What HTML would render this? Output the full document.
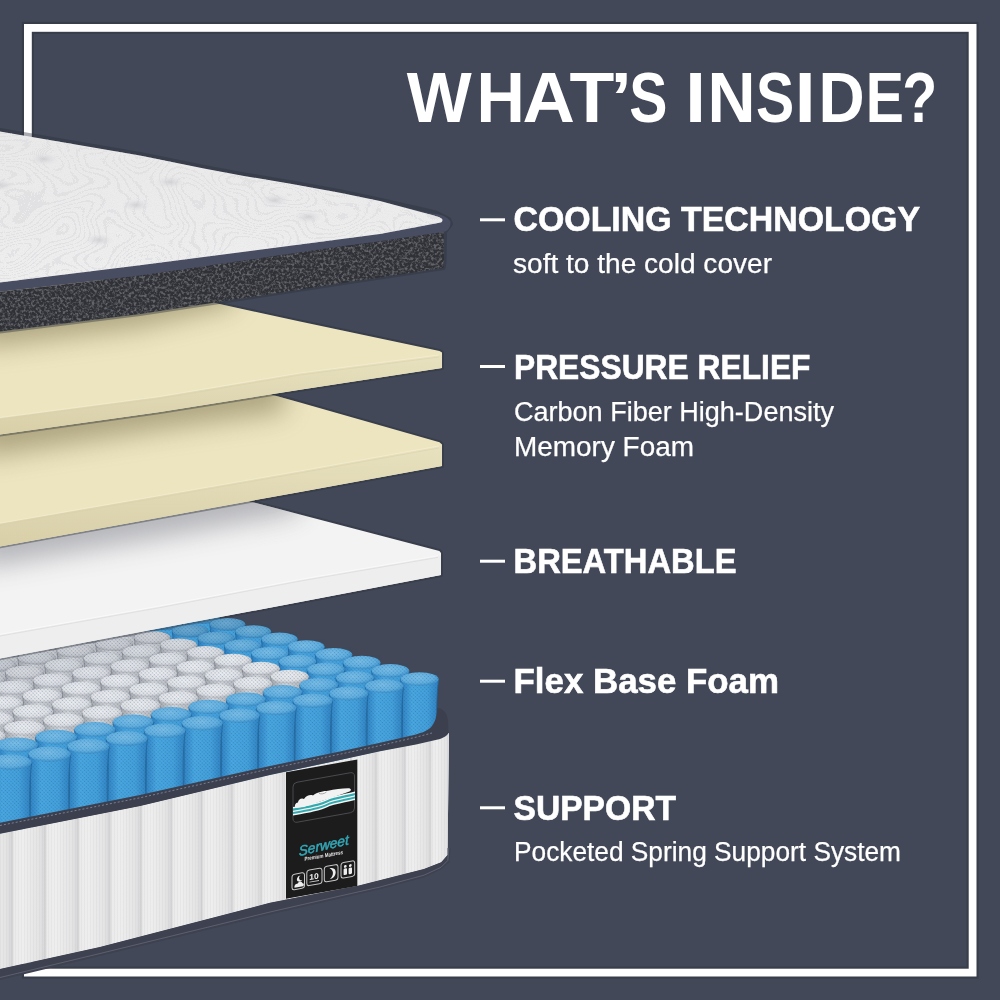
<!DOCTYPE html>
<html><head><meta charset="utf-8"><style>
html,body{margin:0;padding:0;}
body{width:1000px;height:1000px;overflow:hidden;background:#424857;}
svg{position:absolute;left:0;top:0;display:block;will-change:transform;}
</style></head><body>
<svg width="1000" height="1000" viewBox="0 0 1000 1000">
<defs>
<filter id="fTopo" x="0" y="0" width="100%" height="100%" filterUnits="objectBoundingBox">
 <feTurbulence type="fractalNoise" baseFrequency="0.011 0.018" numOctaves="2" seed="11"/>
 <feColorMatrix type="matrix" values="0 0 0 0 0.70  0 0 0 0 0.70  0 0 0 0 0.72  1.6 0 0 0 -0.3"/>
 <feComponentTransfer><feFuncA type="discrete" tableValues="0 0 0 1 0 0 0 1 0 0 0 1 0 0 0 1 0 0 0 1 0 0 0 1 0 0 0 1 0 0 0 1 0 0 0 1 0 0 0 1 0 0 0 1 0 0 0 1 0 0 0 1 0 0 0 1"/></feComponentTransfer>
</filter>
<filter id="fKnit" x="0" y="0" width="100%" height="100%" filterUnits="objectBoundingBox">
 <feTurbulence type="fractalNoise" baseFrequency="0.9" numOctaves="1" seed="5"/>
 <feColorMatrix type="matrix" values="0 0 0 0 0.72  0 0 0 0 0.72  0 0 0 0 0.74  3 0 0 0 -1.4"/>
</filter>
<filter id="fSpeck" x="0" y="0" width="100%" height="100%" filterUnits="objectBoundingBox">
 <feTurbulence type="fractalNoise" baseFrequency="0.38" numOctaves="3" seed="7" result="n"/>
 <feColorMatrix in="n" type="matrix" values="0 0 0 0 0.42  0 0 0 0 0.42  0 0 0 0 0.45  3.2 0 0 0 -1.35"/>
</filter>
<filter id="blurS" x="-30%" y="-100%" width="160%" height="300%"><feGaussianBlur stdDeviation="13"/></filter>
<pattern id="patMesh" width="2.6" height="2.6" patternUnits="userSpaceOnUse" patternTransform="rotate(45)"><circle cx="1.3" cy="1.3" r="0.75" fill="#1c4f7a"/></pattern>
<pattern id="patLines" width="3" height="6" patternUnits="userSpaceOnUse"><rect x="0" y="0" width="1" height="6" fill="#b0b0b4"/></pattern>
<pattern id="patSpeck" width="6" height="6" patternUnits="userSpaceOnUse">
 <circle cx="1" cy="1" r="0.7" fill="#8a8b90"/><circle cx="4" cy="3" r="0.6" fill="#77787d"/><circle cx="2" cy="5" r="0.5" fill="#9a9ba0"/>
</pattern>
<linearGradient id="gBlueBody" x1="0" y1="0" x2="1" y2="0">
 <stop offset="0" stop-color="#2d7fc0"/><stop offset="0.3" stop-color="#4aa8e2"/><stop offset="0.7" stop-color="#45a2dd"/><stop offset="1" stop-color="#2f82c2"/>
</linearGradient>
<radialGradient id="gBlueTop" cx="0.45" cy="0.4" r="0.6">
 <stop offset="0" stop-color="#7cc0ea"/><stop offset="0.7" stop-color="#62b1e2"/><stop offset="1" stop-color="#3f92cc"/>
</radialGradient>
<linearGradient id="gWhiteBody" x1="0" y1="0" x2="1" y2="0">
 <stop offset="0" stop-color="#a9aaae"/><stop offset="0.4" stop-color="#d8d8da"/><stop offset="1" stop-color="#a9aaae"/>
</linearGradient>
<radialGradient id="gWhiteTop" cx="0.45" cy="0.4" r="0.6">
 <stop offset="0" stop-color="#f0f0f2"/><stop offset="0.7" stop-color="#e4e4e6"/><stop offset="1" stop-color="#bdbdc2"/>
</radialGradient>
<linearGradient id="gChannel" x1="0" y1="0" x2="1" y2="0">
 <stop offset="0" stop-color="#cdcdcf"/><stop offset="0.1" stop-color="#ebebeb"/><stop offset="0.35" stop-color="#eeeeee"/><stop offset="0.85" stop-color="#e4e4e5"/><stop offset="1" stop-color="#d9d9db"/>
</linearGradient>
<linearGradient id="gSpringShadow" gradientUnits="userSpaceOnUse" x1="0" y1="640" x2="0" y2="700">
 <stop offset="0" stop-color="#20242e" stop-opacity="0.45"/><stop offset="1" stop-color="#20242e" stop-opacity="0"/>
</linearGradient>
<linearGradient id="gWLshadow" gradientUnits="userSpaceOnUse" x1="100" y1="528" x2="108" y2="585">
 <stop offset="0" stop-color="#7c7e86" stop-opacity="0.6"/><stop offset="1" stop-color="#7c7e86" stop-opacity="0"/>
</linearGradient>
<linearGradient id="gLYshadow" gradientUnits="userSpaceOnUse" x1="100" y1="420" x2="107" y2="470">
 <stop offset="0" stop-color="#8c825c" stop-opacity="0.5"/><stop offset="1" stop-color="#8c825c" stop-opacity="0"/>
</linearGradient>
<linearGradient id="gUYshadow" gradientUnits="userSpaceOnUse" x1="100" y1="319" x2="105" y2="360">
 <stop offset="0" stop-color="#8c825c" stop-opacity="0.5"/><stop offset="1" stop-color="#8c825c" stop-opacity="0"/>
</linearGradient>
<linearGradient id="gYelFront" x1="0" y1="0" x2="0" y2="1">
 <stop offset="0" stop-color="#e8e1bf"/><stop offset="1" stop-color="#d8cfa8"/>
</linearGradient>
<linearGradient id="gCover" gradientUnits="userSpaceOnUse" x1="0" y1="130" x2="0" y2="283">
 <stop offset="0" stop-color="#e9e9ea"/><stop offset="1" stop-color="#efeff0"/>
</linearGradient>
<radialGradient id="gTuft"><stop offset="0" stop-color="#cbcbcf"/><stop offset="1" stop-color="#e0e0e2" stop-opacity="0"/></radialGradient>
<clipPath id="clipSprings"><polygon points="-10,500 460,500 449,733 440,737 416,744.5 0,833.7 -10,835.7"/></clipPath>
<clipPath id="clipMesh"><rect x="69.4" y="577.5" width="33.1" height="95"/><rect x="30.2" y="583.5" width="33.4" height="95"/><rect x="-9.4" y="589.5" width="33.8" height="95"/><rect x="-49.5" y="595.7" width="34.2" height="95"/><rect x="91.4" y="583.7" width="33.4" height="95"/><rect x="52.4" y="589.8" width="33.8" height="95"/><rect x="13.0" y="595.9" width="34.2" height="95"/><rect x="-26.8" y="602.1" width="34.6" height="95"/><rect x="113.9" y="590.1" width="33.8" height="95"/><rect x="75.2" y="596.2" width="34.2" height="95"/><rect x="36.1" y="602.5" width="34.6" height="95"/><rect x="-3.5" y="608.7" width="35.0" height="95"/><rect x="-43.4" y="615.1" width="35.4" height="95"/><rect x="137.0" y="596.6" width="34.2" height="95"/><rect x="98.6" y="602.9" width="34.6" height="95"/><rect x="59.7" y="609.2" width="35.0" height="95"/><rect x="20.5" y="615.5" width="35.4" height="95"/><rect x="-19.2" y="622.0" width="35.8" height="95"/><rect x="160.7" y="603.4" width="34.6" height="95"/><rect x="122.5" y="609.7" width="35.0" height="95"/><rect x="84.0" y="616.0" width="35.4" height="95"/><rect x="45.0" y="622.5" width="35.8" height="95"/><rect x="5.6" y="629.0" width="36.2" height="95"/><rect x="-34.2" y="635.6" width="36.6" height="95"/><rect x="185.0" y="610.3" width="35.0" height="95"/><rect x="147.1" y="616.6" width="35.4" height="95"/><rect x="108.8" y="623.1" width="35.8" height="95"/><rect x="70.1" y="629.6" width="36.2" height="95"/><rect x="31.0" y="636.2" width="36.6" height="95"/><rect x="-8.5" y="642.9" width="37.0" height="95"/><rect x="-48.4" y="649.7" width="37.4" height="95"/><rect x="209.9" y="617.3" width="35.3" height="95"/><rect x="172.3" y="623.8" width="35.7" height="95"/><rect x="134.3" y="630.3" width="36.2" height="95"/><rect x="95.8" y="636.9" width="36.6" height="95"/><rect x="57.0" y="643.6" width="37.0" height="95"/><rect x="17.8" y="650.4" width="37.4" height="95"/><rect x="-21.8" y="657.2" width="37.8" height="95"/><rect x="235.4" y="624.6" width="35.7" height="95"/><rect x="198.0" y="631.1" width="36.1" height="95"/><rect x="160.3" y="637.7" width="36.5" height="95"/><rect x="122.2" y="644.4" width="37.0" height="95"/><rect x="83.7" y="651.2" width="37.4" height="95"/><rect x="44.8" y="658.0" width="37.8" height="95"/><rect x="5.4" y="665.0" width="38.2" height="95"/><rect x="-34.3" y="672.0" width="38.6" height="95"/><rect x="261.4" y="632.0" width="36.1" height="95"/><rect x="224.4" y="638.6" width="36.5" height="95"/><rect x="187.0" y="645.3" width="36.9" height="95"/><rect x="149.2" y="652.1" width="37.3" height="95"/><rect x="110.9" y="658.9" width="37.8" height="95"/><rect x="72.3" y="665.9" width="38.2" height="95"/><rect x="33.3" y="672.9" width="38.6" height="95"/><rect x="-6.1" y="680.0" width="39.0" height="95"/><rect x="-45.9" y="687.1" width="39.4" height="95"/><rect x="288.1" y="639.5" width="36.5" height="95"/><rect x="251.4" y="646.3" width="36.9" height="95"/><rect x="214.3" y="653.0" width="37.3" height="95"/><rect x="176.7" y="659.9" width="37.7" height="95"/><rect x="138.8" y="666.9" width="38.2" height="95"/><rect x="100.5" y="673.9" width="38.6" height="95"/><rect x="61.8" y="681.0" width="39.0" height="95"/><rect x="22.7" y="688.2" width="39.4" height="95"/><rect x="-16.8" y="695.4" width="39.8" height="95"/><rect x="-56.7" y="702.7" width="40.3" height="95"/><rect x="315.3" y="647.3" width="36.9" height="95"/><rect x="278.9" y="654.1" width="37.3" height="95"/><rect x="242.1" y="661.0" width="37.7" height="95"/><rect x="204.9" y="667.9" width="38.1" height="95"/><rect x="167.3" y="674.9" width="38.6" height="95"/><rect x="129.3" y="682.1" width="39.0" height="95"/><rect x="90.9" y="689.2" width="39.4" height="95"/><rect x="52.1" y="696.5" width="39.8" height="95"/><rect x="12.9" y="703.9" width="40.3" height="95"/><rect x="-26.7" y="711.3" width="40.7" height="95"/><rect x="343.2" y="655.2" width="37.2" height="95"/><rect x="307.1" y="662.1" width="37.7" height="95"/><rect x="270.6" y="669.0" width="38.1" height="95"/><rect x="233.7" y="676.1" width="38.5" height="95"/><rect x="196.4" y="683.2" width="39.0" height="95"/><rect x="158.8" y="690.4" width="39.4" height="95"/><rect x="120.7" y="697.7" width="39.8" height="95"/><rect x="82.2" y="705.1" width="40.2" height="95"/><rect x="43.3" y="712.5" width="40.7" height="95"/><rect x="4.0" y="720.0" width="41.1" height="95"/><rect x="-35.6" y="727.6" width="41.5" height="95"/><rect x="371.6" y="663.3" width="37.6" height="95"/><rect x="335.8" y="670.2" width="38.1" height="95"/><rect x="299.7" y="677.3" width="38.5" height="95"/><rect x="263.1" y="684.4" width="38.9" height="95"/><rect x="226.2" y="691.7" width="39.4" height="95"/><rect x="188.8" y="699.0" width="39.8" height="95"/><rect x="151.1" y="706.3" width="40.2" height="95"/><rect x="112.9" y="713.8" width="40.6" height="95"/><rect x="74.4" y="721.3" width="41.1" height="95"/><rect x="35.4" y="728.9" width="41.5" height="95"/><rect x="-3.9" y="736.6" width="41.9" height="95"/><rect x="-43.7" y="744.4" width="42.4" height="95"/><rect x="400.6" y="671.5" width="38.0" height="95"/><rect x="365.2" y="678.6" width="38.4" height="95"/><rect x="329.4" y="685.7" width="38.9" height="95"/><rect x="293.1" y="693.0" width="39.3" height="95"/><rect x="256.5" y="700.3" width="39.7" height="95"/><rect x="219.5" y="707.7" width="40.2" height="95"/><rect x="182.1" y="715.1" width="40.6" height="95"/><rect x="144.3" y="722.7" width="41.1" height="95"/><rect x="106.1" y="730.3" width="41.5" height="95"/><rect x="67.4" y="738.0" width="41.9" height="95"/><rect x="28.4" y="745.8" width="42.4" height="95"/><rect x="-11.0" y="753.6" width="42.8" height="95"/><rect x="-50.8" y="761.6" width="43.2" height="95"/></clipPath>
<clipPath id="clipSide"><polygon points="-10.0,835.7 0.0,833.7 140.0,806.0 270.0,775.0 340.0,760.0 380.0,751.2 416.0,744.0 440.0,737.0 449.0,733.0 447.6,848.0 447.6,855.0 441.2,862.3 424.0,869.0 357.0,886.0 270.0,902.8 100.0,947.0 0.0,969.0 -10.0,971.0"/></clipPath>
<clipPath id="clipWL"><polygon points="-10.0,434.0 300.0,514.4 439.4,551.0 441.0,553.0 441.0,575.0 300.0,602.0 160.0,628.3 0.0,658.4 -10.0,660.3"/></clipPath>
<clipPath id="clipLY"><polygon points="-10.0,316.0 300.0,402.5 439.5,442.3 442.0,444.5 442.0,466.0 300.0,492.0 160.0,517.4 0.0,546.4 -10.0,548.2"/></clipPath>
<clipPath id="clipUY"><polygon points="-10.0,256.0 215.0,303.0 300.0,321.4 439.5,351.0 442.0,352.5 442.0,368.0 300.0,389.8 160.0,412.0 0.0,434.4 -10.0,435.9"/></clipPath>
<clipPath id="clipDS"><polygon points="-10,293 0,291.7 140,275.6 340,246.5 380,241.2 443.5,232 444,262 443.6,268 340,283.6 140,314 0,331.6 -10,333"/></clipPath>
<clipPath id="clipCover"><path d="M-10,129.8 L0,131.5 L70,143.5 L140,155.5 L204,168.5 L244,175.9 L292,183.9 L340,192.7 L380,201 L434,215.5 C441,217.5 443,219 442.4,220.5 C442,222 441.5,222.3 440.8,222.5 L380,234 L340,239.3 L140,265.3 L0,282.4 L-10,283.6 Z"/></clipPath>
</defs>
<rect x="0" y="0" width="1000" height="1000" fill="#424857"/>
<rect x="27.9" y="27.9" width="944.7" height="944.7" fill="none" stroke="#2c313b" stroke-width="12" opacity="0.45"/>
<rect x="27.9" y="27.9" width="944.7" height="944.7" fill="none" stroke="#ffffff" stroke-width="7.8"/>
<g font-family="Liberation Sans, sans-serif" fill="#ffffff">
<text transform="translate(406.73,122) scale(0.9856,1)" font-size="69.8" font-weight="bold">W</text><text transform="translate(476.53,122) scale(0.9577,1)" font-size="69.8" font-weight="bold">H</text><text transform="translate(522.49,122) scale(1.0400,1)" font-size="69.8" font-weight="bold">A</text><text transform="translate(569.48,122) scale(1.0510,1)" font-size="69.8" font-weight="bold">T</text><text transform="translate(610.58,122) scale(1.1000,1)" font-size="69.8" font-weight="bold">’</text><text transform="translate(629.16,122) scale(0.8200,1)" font-size="69.8" font-weight="bold">S</text><text transform="translate(685.33,122) scale(1.0642,1)" font-size="69.8" font-weight="bold">I</text><text transform="translate(707.45,122) scale(0.9529,1)" font-size="69.8" font-weight="bold">N</text><text transform="translate(755.96,122) scale(0.8200,1)" font-size="69.8" font-weight="bold">S</text><text transform="translate(794.68,122) scale(1.0742,1)" font-size="69.8" font-weight="bold">I</text><text transform="translate(818.42,122) scale(0.9157,1)" font-size="69.8" font-weight="bold">D</text><text transform="translate(865.67,122) scale(0.8200,1)" font-size="69.8" font-weight="bold">E</text><text transform="translate(902.15,122) scale(0.8200,1)" font-size="69.8" font-weight="bold">?</text>
<text x="513.50" y="231.3" font-size="35.60" font-weight="bold" stroke="#ffffff" stroke-width="0.6" textLength="406.50" lengthAdjust="spacingAndGlyphs">COOLING TECHNOLOGY</text>
<text x="513.00" y="273" font-size="28.40" stroke="#ffffff" stroke-width="0.25" textLength="259.00" lengthAdjust="spacingAndGlyphs">soft to the cold cover</text>
<text x="514.00" y="378.6" font-size="35.60" font-weight="bold" stroke="#ffffff" stroke-width="0.6" textLength="296.50" lengthAdjust="spacingAndGlyphs">PRESSURE RELIEF</text>
<text x="514.00" y="420.5" font-size="28.40" stroke="#ffffff" stroke-width="0.25" textLength="320.00" lengthAdjust="spacingAndGlyphs">Carbon Fiber High-Density</text>
<text x="514.00" y="455.5" font-size="28.40" stroke="#ffffff" stroke-width="0.25" textLength="180.00" lengthAdjust="spacingAndGlyphs">Memory Foam</text>
<text x="513.50" y="573.2" font-size="35.60" font-weight="bold" stroke="#ffffff" stroke-width="0.6" textLength="223.00" lengthAdjust="spacingAndGlyphs">BREATHABLE</text>
<text x="513.50" y="693.2" font-size="35.60" font-weight="bold" stroke="#ffffff" stroke-width="0.6" textLength="265.50" lengthAdjust="spacingAndGlyphs">Flex Base Foam</text>
<text x="513.50" y="820.3" font-size="35.60" font-weight="bold" stroke="#ffffff" stroke-width="0.6" textLength="162.50" lengthAdjust="spacingAndGlyphs">SUPPORT</text>
<text x="514.00" y="861.4" font-size="28.40" stroke="#ffffff" stroke-width="0.25" textLength="387.00" lengthAdjust="spacingAndGlyphs">Pocketed Spring Support System</text>
</g>
<g fill="#ffffff">
<rect x="480" y="218.3" width="25" height="3"/>
<rect x="480" y="365" width="25" height="3"/>
<rect x="480" y="559.7" width="25" height="3"/>
<rect x="480" y="679.7" width="25" height="3"/>
<rect x="480" y="806.3" width="25" height="3"/>
</g>
<g id="springs" clip-path="url(#clipSprings)">
<path d="M69.4,584.0 C71.6,606.0 71.6,624.0 69.9,679.0 L102.0,679.0 C100.3,624.0 100.3,606.0 102.5,584.0 Z" fill="url(#gBlueBody)" stroke="#24679c" stroke-width="0.8"/>
<ellipse cx="86.0" cy="584.0" rx="16.5" ry="5.9" fill="url(#gBlueTop)"/>
<ellipse cx="86.0" cy="584.0" rx="17.0" ry="6.4" fill="#1d2230" opacity="0.16"/>
<path d="M30.2,590.1 C32.4,612.1 32.4,630.1 30.7,685.1 L63.1,685.1 C61.4,630.1 61.4,612.1 63.6,590.1 Z" fill="url(#gBlueBody)" stroke="#24679c" stroke-width="0.8"/>
<ellipse cx="46.9" cy="590.1" rx="16.7" ry="6.0" fill="url(#gBlueTop)"/>
<ellipse cx="46.9" cy="590.1" rx="17.2" ry="6.5" fill="#1d2230" opacity="0.16"/>
<path d="M-9.4,596.2 C-7.2,618.2 -7.2,636.2 -8.9,691.2 L23.9,691.2 C22.2,636.2 22.2,618.2 24.4,596.2 Z" fill="url(#gWhiteBody)" stroke="#86878d" stroke-width="0.8"/>
<ellipse cx="7.5" cy="596.2" rx="16.9" ry="6.1" fill="url(#gWhiteTop)"/>
<ellipse cx="7.5" cy="596.2" rx="17.4" ry="6.6" fill="#1d2230" opacity="0.16"/>
<path d="M-49.5,602.4 C-47.2,624.4 -47.2,642.4 -49.0,697.4 L-15.8,697.4 C-17.5,642.4 -17.5,624.4 -15.3,602.4 Z" fill="url(#gWhiteBody)" stroke="#86878d" stroke-width="0.8"/>
<ellipse cx="-32.4" cy="602.4" rx="17.1" ry="6.1" fill="url(#gWhiteTop)"/>
<ellipse cx="-32.4" cy="602.4" rx="17.6" ry="6.6" fill="#1d2230" opacity="0.16"/>
<path d="M91.4,590.3 C93.6,612.3 93.6,630.3 91.9,685.3 L124.3,685.3 C122.6,630.3 122.6,612.3 124.8,590.3 Z" fill="url(#gBlueBody)" stroke="#24679c" stroke-width="0.8"/>
<ellipse cx="108.1" cy="590.3" rx="16.7" ry="6.0" fill="url(#gBlueTop)"/>
<ellipse cx="108.1" cy="590.3" rx="17.2" ry="6.5" fill="#1d2230" opacity="0.16"/>
<path d="M52.4,596.4 C54.6,618.4 54.6,636.4 52.9,691.4 L85.7,691.4 C84.0,636.4 84.0,618.4 86.2,596.4 Z" fill="url(#gBlueBody)" stroke="#24679c" stroke-width="0.8"/>
<ellipse cx="69.3" cy="596.4" rx="16.9" ry="6.1" fill="url(#gBlueTop)"/>
<ellipse cx="69.3" cy="596.4" rx="17.4" ry="6.6" fill="#1d2230" opacity="0.16"/>
<path d="M13.0,602.7 C15.3,624.7 15.3,642.7 13.5,697.7 L46.7,697.7 C45.0,642.7 45.0,624.7 47.2,602.7 Z" fill="url(#gWhiteBody)" stroke="#86878d" stroke-width="0.8"/>
<ellipse cx="30.1" cy="602.7" rx="17.1" ry="6.1" fill="url(#gWhiteTop)"/>
<ellipse cx="30.1" cy="602.7" rx="17.6" ry="6.6" fill="#1d2230" opacity="0.16"/>
<path d="M-26.8,609.0 C-24.5,631.0 -24.5,649.0 -26.3,704.0 L7.3,704.0 C5.6,649.0 5.6,631.0 7.8,609.0 Z" fill="url(#gWhiteBody)" stroke="#86878d" stroke-width="0.8"/>
<ellipse cx="-9.5" cy="609.0" rx="17.3" ry="6.2" fill="url(#gWhiteTop)"/>
<ellipse cx="-9.5" cy="609.0" rx="17.8" ry="6.7" fill="#1d2230" opacity="0.16"/>
<path d="M113.9,596.8 C116.1,618.8 116.1,636.8 114.4,691.8 L147.2,691.8 C145.5,636.8 145.5,618.8 147.7,596.8 Z" fill="url(#gBlueBody)" stroke="#24679c" stroke-width="0.8"/>
<ellipse cx="130.8" cy="596.8" rx="16.9" ry="6.1" fill="url(#gBlueTop)"/>
<ellipse cx="130.8" cy="596.8" rx="17.4" ry="6.6" fill="#1d2230" opacity="0.16"/>
<path d="M75.2,603.0 C77.4,625.0 77.4,643.0 75.7,698.0 L108.9,698.0 C107.1,643.0 107.1,625.0 109.4,603.0 Z" fill="url(#gBlueBody)" stroke="#24679c" stroke-width="0.8"/>
<ellipse cx="92.3" cy="603.0" rx="17.1" ry="6.1" fill="url(#gBlueTop)"/>
<ellipse cx="92.3" cy="603.0" rx="17.6" ry="6.6" fill="#1d2230" opacity="0.16"/>
<path d="M36.1,609.3 C38.3,631.3 38.3,649.3 36.6,704.3 L70.2,704.3 C68.4,649.3 68.4,631.3 70.7,609.3 Z" fill="url(#gWhiteBody)" stroke="#86878d" stroke-width="0.8"/>
<ellipse cx="53.4" cy="609.3" rx="17.3" ry="6.2" fill="url(#gWhiteTop)"/>
<ellipse cx="53.4" cy="609.3" rx="17.8" ry="6.7" fill="#1d2230" opacity="0.16"/>
<path d="M-3.5,615.7 C-1.2,637.7 -1.2,655.7 -3.0,710.7 L31.0,710.7 C29.2,655.7 29.2,637.7 31.5,615.7 Z" fill="url(#gWhiteBody)" stroke="#86878d" stroke-width="0.8"/>
<ellipse cx="14.0" cy="615.7" rx="17.5" ry="6.3" fill="url(#gWhiteTop)"/>
<ellipse cx="14.0" cy="615.7" rx="18.0" ry="6.8" fill="#1d2230" opacity="0.16"/>
<path d="M-43.4,622.1 C-41.1,644.1 -41.1,662.1 -42.9,717.1 L-8.5,717.1 C-10.3,662.1 -10.3,644.1 -8.0,622.1 Z" fill="url(#gWhiteBody)" stroke="#86878d" stroke-width="0.8"/>
<ellipse cx="-25.7" cy="622.1" rx="17.7" ry="6.3" fill="url(#gWhiteTop)"/>
<ellipse cx="-25.7" cy="622.1" rx="18.2" ry="6.8" fill="#1d2230" opacity="0.16"/>
<path d="M137.0,603.4 C139.3,625.4 139.3,643.4 137.5,698.4 L170.7,698.4 C169.0,643.4 169.0,625.4 171.2,603.4 Z" fill="url(#gBlueBody)" stroke="#24679c" stroke-width="0.8"/>
<ellipse cx="154.1" cy="603.4" rx="17.1" ry="6.1" fill="url(#gBlueTop)"/>
<ellipse cx="154.1" cy="603.4" rx="17.6" ry="6.6" fill="#1d2230" opacity="0.16"/>
<path d="M98.6,609.7 C100.8,631.7 100.8,649.7 99.1,704.7 L132.6,704.7 C130.9,649.7 130.9,631.7 133.1,609.7 Z" fill="url(#gBlueBody)" stroke="#24679c" stroke-width="0.8"/>
<ellipse cx="115.8" cy="609.7" rx="17.3" ry="6.2" fill="url(#gBlueTop)"/>
<ellipse cx="115.8" cy="609.7" rx="17.8" ry="6.7" fill="#1d2230" opacity="0.16"/>
<path d="M59.7,616.1 C62.0,638.1 62.0,656.1 60.2,711.1 L94.2,711.1 C92.4,656.1 92.4,638.1 94.7,616.1 Z" fill="url(#gWhiteBody)" stroke="#86878d" stroke-width="0.8"/>
<ellipse cx="77.2" cy="616.1" rx="17.5" ry="6.3" fill="url(#gWhiteTop)"/>
<ellipse cx="77.2" cy="616.1" rx="18.0" ry="6.8" fill="#1d2230" opacity="0.16"/>
<path d="M20.5,622.5 C22.8,644.5 22.8,662.5 21.0,717.5 L55.3,717.5 C53.5,662.5 53.5,644.5 55.8,622.5 Z" fill="url(#gWhiteBody)" stroke="#86878d" stroke-width="0.8"/>
<ellipse cx="38.1" cy="622.5" rx="17.7" ry="6.3" fill="url(#gWhiteTop)"/>
<ellipse cx="38.1" cy="622.5" rx="18.2" ry="6.8" fill="#1d2230" opacity="0.16"/>
<path d="M-19.2,629.0 C-16.8,651.0 -16.8,669.0 -18.7,724.0 L16.1,724.0 C14.2,669.0 14.2,651.0 16.6,629.0 Z" fill="url(#gWhiteBody)" stroke="#86878d" stroke-width="0.8"/>
<ellipse cx="-1.3" cy="629.0" rx="17.9" ry="6.4" fill="url(#gWhiteTop)"/>
<ellipse cx="-1.3" cy="629.0" rx="18.4" ry="6.9" fill="#1d2230" opacity="0.16"/>
<path d="M160.7,610.2 C163.0,632.2 163.0,650.2 161.2,705.2 L194.8,705.2 C193.0,650.2 193.0,632.2 195.3,610.2 Z" fill="url(#gBlueBody)" stroke="#24679c" stroke-width="0.8"/>
<ellipse cx="178.0" cy="610.2" rx="17.3" ry="6.2" fill="url(#gBlueTop)"/>
<ellipse cx="178.0" cy="610.2" rx="17.8" ry="6.7" fill="#1d2230" opacity="0.16"/>
<path d="M122.5,616.6 C124.8,638.6 124.8,656.6 123.0,711.6 L157.0,711.6 C155.2,656.6 155.2,638.6 157.5,616.6 Z" fill="url(#gBlueBody)" stroke="#24679c" stroke-width="0.8"/>
<ellipse cx="140.0" cy="616.6" rx="17.5" ry="6.3" fill="url(#gBlueTop)"/>
<ellipse cx="140.0" cy="616.6" rx="18.0" ry="6.8" fill="#1d2230" opacity="0.16"/>
<path d="M84.0,623.0 C86.3,645.0 86.3,663.0 84.5,718.0 L118.8,718.0 C117.0,663.0 117.0,645.0 119.3,623.0 Z" fill="url(#gWhiteBody)" stroke="#86878d" stroke-width="0.8"/>
<ellipse cx="101.6" cy="623.0" rx="17.7" ry="6.3" fill="url(#gWhiteTop)"/>
<ellipse cx="101.6" cy="623.0" rx="18.2" ry="6.8" fill="#1d2230" opacity="0.16"/>
<path d="M45.0,629.6 C47.3,651.6 47.3,669.6 45.5,724.6 L80.2,724.6 C78.4,669.6 78.4,651.6 80.7,629.6 Z" fill="url(#gWhiteBody)" stroke="#86878d" stroke-width="0.8"/>
<ellipse cx="62.9" cy="629.6" rx="17.9" ry="6.4" fill="url(#gWhiteTop)"/>
<ellipse cx="62.9" cy="629.6" rx="18.4" ry="6.9" fill="#1d2230" opacity="0.16"/>
<path d="M5.6,636.2 C8.0,658.2 8.0,676.2 6.1,731.2 L41.3,731.2 C39.4,676.2 39.4,658.2 41.8,636.2 Z" fill="url(#gWhiteBody)" stroke="#86878d" stroke-width="0.8"/>
<ellipse cx="23.7" cy="636.2" rx="18.1" ry="6.5" fill="url(#gWhiteTop)"/>
<ellipse cx="23.7" cy="636.2" rx="18.6" ry="7.0" fill="#1d2230" opacity="0.16"/>
<path d="M-34.2,642.8 C-31.8,664.8 -31.8,682.8 -33.7,737.8 L1.9,737.8 C-0.0,682.8 -0.0,664.8 2.4,642.8 Z" fill="url(#gWhiteBody)" stroke="#86878d" stroke-width="0.8"/>
<ellipse cx="-15.9" cy="642.8" rx="18.3" ry="6.5" fill="url(#gWhiteTop)"/>
<ellipse cx="-15.9" cy="642.8" rx="18.8" ry="7.0" fill="#1d2230" opacity="0.16"/>
<path d="M185.0,617.2 C187.3,639.2 187.3,657.2 185.5,712.2 L219.5,712.2 C217.7,657.2 217.7,639.2 220.0,617.2 Z" fill="url(#gBlueBody)" stroke="#24679c" stroke-width="0.8"/>
<ellipse cx="202.5" cy="617.2" rx="17.5" ry="6.3" fill="url(#gBlueTop)"/>
<ellipse cx="202.5" cy="617.2" rx="18.0" ry="6.8" fill="#1d2230" opacity="0.16"/>
<path d="M147.1,623.6 C149.4,645.6 149.4,663.6 147.6,718.6 L182.0,718.6 C180.1,663.6 180.1,645.6 182.5,623.6 Z" fill="url(#gBlueBody)" stroke="#24679c" stroke-width="0.8"/>
<ellipse cx="164.8" cy="623.6" rx="17.7" ry="6.3" fill="url(#gBlueTop)"/>
<ellipse cx="164.8" cy="623.6" rx="18.2" ry="6.8" fill="#1d2230" opacity="0.16"/>
<path d="M108.8,630.2 C111.2,652.2 111.2,670.2 109.3,725.2 L144.1,725.2 C142.2,670.2 142.2,652.2 144.6,630.2 Z" fill="url(#gWhiteBody)" stroke="#86878d" stroke-width="0.8"/>
<ellipse cx="126.7" cy="630.2" rx="17.9" ry="6.4" fill="url(#gWhiteTop)"/>
<ellipse cx="126.7" cy="630.2" rx="18.4" ry="6.9" fill="#1d2230" opacity="0.16"/>
<path d="M70.1,636.8 C72.5,658.8 72.5,676.8 70.6,731.8 L105.8,731.8 C103.9,676.8 103.9,658.8 106.3,636.8 Z" fill="url(#gWhiteBody)" stroke="#86878d" stroke-width="0.8"/>
<ellipse cx="88.2" cy="636.8" rx="18.1" ry="6.5" fill="url(#gWhiteTop)"/>
<ellipse cx="88.2" cy="636.8" rx="18.6" ry="7.0" fill="#1d2230" opacity="0.16"/>
<path d="M31.0,643.5 C33.4,665.5 33.4,683.5 31.5,738.5 L67.1,738.5 C65.2,683.5 65.2,665.5 67.6,643.5 Z" fill="url(#gWhiteBody)" stroke="#86878d" stroke-width="0.8"/>
<ellipse cx="49.3" cy="643.5" rx="18.3" ry="6.5" fill="url(#gWhiteTop)"/>
<ellipse cx="49.3" cy="643.5" rx="18.8" ry="7.0" fill="#1d2230" opacity="0.16"/>
<path d="M-8.5,650.2 C-6.1,672.2 -6.1,690.2 -8.0,745.2 L28.0,745.2 C26.0,690.2 26.0,672.2 28.5,650.2 Z" fill="url(#gWhiteBody)" stroke="#86878d" stroke-width="0.8"/>
<ellipse cx="10.0" cy="650.2" rx="18.5" ry="6.6" fill="url(#gWhiteTop)"/>
<ellipse cx="10.0" cy="650.2" rx="19.0" ry="7.1" fill="#1d2230" opacity="0.16"/>
<path d="M-48.4,657.1 C-45.9,679.1 -45.9,697.1 -47.9,752.1 L-11.5,752.1 C-13.5,697.1 -13.5,679.1 -11.0,657.1 Z" fill="url(#gWhiteBody)" stroke="#86878d" stroke-width="0.8"/>
<ellipse cx="-29.7" cy="657.1" rx="18.7" ry="6.7" fill="url(#gWhiteTop)"/>
<ellipse cx="-29.7" cy="657.1" rx="19.2" ry="7.2" fill="#1d2230" opacity="0.16"/>
<path d="M209.9,624.3 C212.2,646.3 212.2,664.3 210.4,719.3 L244.7,719.3 C242.9,664.3 242.9,646.3 245.2,624.3 Z" fill="url(#gBlueBody)" stroke="#24679c" stroke-width="0.8"/>
<ellipse cx="227.6" cy="624.3" rx="17.7" ry="6.3" fill="url(#gBlueTop)"/>
<ellipse cx="227.6" cy="624.3" rx="18.2" ry="6.8" fill="#1d2230" opacity="0.13"/>
<path d="M172.3,630.9 C174.6,652.9 174.6,670.9 172.8,725.9 L207.5,725.9 C205.7,670.9 205.7,652.9 208.0,630.9 Z" fill="url(#gBlueBody)" stroke="#24679c" stroke-width="0.8"/>
<ellipse cx="190.1" cy="630.9" rx="17.9" ry="6.4" fill="url(#gBlueTop)"/>
<ellipse cx="190.1" cy="630.9" rx="18.4" ry="6.9" fill="#1d2230" opacity="0.13"/>
<path d="M134.3,637.5 C136.6,659.5 136.6,677.5 134.8,732.5 L169.9,732.5 C168.0,677.5 168.0,659.5 170.4,637.5 Z" fill="url(#gWhiteBody)" stroke="#86878d" stroke-width="0.8"/>
<ellipse cx="152.3" cy="637.5" rx="18.1" ry="6.5" fill="url(#gWhiteTop)"/>
<ellipse cx="152.3" cy="637.5" rx="18.6" ry="7.0" fill="#1d2230" opacity="0.13"/>
<path d="M95.8,644.2 C98.3,666.2 98.3,684.2 96.3,739.2 L131.9,739.2 C130.0,684.2 130.0,666.2 132.4,644.2 Z" fill="url(#gWhiteBody)" stroke="#86878d" stroke-width="0.8"/>
<ellipse cx="114.1" cy="644.2" rx="18.3" ry="6.5" fill="url(#gWhiteTop)"/>
<ellipse cx="114.1" cy="644.2" rx="18.8" ry="7.0" fill="#1d2230" opacity="0.13"/>
<path d="M57.0,650.9 C59.5,672.9 59.5,690.9 57.5,745.9 L93.5,745.9 C91.6,690.9 91.6,672.9 94.0,650.9 Z" fill="url(#gWhiteBody)" stroke="#86878d" stroke-width="0.8"/>
<ellipse cx="75.5" cy="650.9" rx="18.5" ry="6.6" fill="url(#gWhiteTop)"/>
<ellipse cx="75.5" cy="650.9" rx="19.0" ry="7.1" fill="#1d2230" opacity="0.13"/>
<path d="M17.8,657.8 C20.3,679.8 20.3,697.8 18.3,752.8 L54.7,752.8 C52.7,697.8 52.7,679.8 55.2,657.8 Z" fill="url(#gWhiteBody)" stroke="#86878d" stroke-width="0.8"/>
<ellipse cx="36.5" cy="657.8" rx="18.7" ry="6.7" fill="url(#gWhiteTop)"/>
<ellipse cx="36.5" cy="657.8" rx="19.2" ry="7.2" fill="#1d2230" opacity="0.14"/>
<path d="M-21.8,664.7 C-19.3,686.7 -19.3,704.7 -21.3,759.7 L15.5,759.7 C13.5,704.7 13.5,686.7 16.0,664.7 Z" fill="url(#gWhiteBody)" stroke="#86878d" stroke-width="0.8"/>
<ellipse cx="-2.9" cy="664.7" rx="18.9" ry="6.8" fill="url(#gWhiteTop)"/>
<ellipse cx="-2.9" cy="664.7" rx="19.4" ry="7.3" fill="#1d2230" opacity="0.14"/>
<path d="M235.4,631.6 C237.7,653.6 237.7,671.6 235.9,726.6 L270.6,726.6 C268.7,671.6 268.7,653.6 271.1,631.6 Z" fill="url(#gBlueBody)" stroke="#24679c" stroke-width="0.8"/>
<ellipse cx="253.2" cy="631.6" rx="17.9" ry="6.4" fill="url(#gBlueTop)"/>
<ellipse cx="253.2" cy="631.6" rx="18.4" ry="6.9" fill="#1d2230" opacity="0.08"/>
<path d="M198.0,638.2 C200.4,660.2 200.4,678.2 198.5,733.2 L233.7,733.2 C231.8,678.2 231.8,660.2 234.2,638.2 Z" fill="url(#gBlueBody)" stroke="#24679c" stroke-width="0.8"/>
<ellipse cx="216.1" cy="638.2" rx="18.1" ry="6.5" fill="url(#gBlueTop)"/>
<ellipse cx="216.1" cy="638.2" rx="18.6" ry="7.0" fill="#1d2230" opacity="0.08"/>
<path d="M160.3,644.9 C162.7,666.9 162.7,684.9 160.8,739.9 L196.4,739.9 C194.5,684.9 194.5,666.9 196.9,644.9 Z" fill="url(#gWhiteBody)" stroke="#86878d" stroke-width="0.8"/>
<ellipse cx="178.6" cy="644.9" rx="18.3" ry="6.5" fill="url(#gWhiteTop)"/>
<ellipse cx="178.6" cy="644.9" rx="18.8" ry="7.0" fill="#1d2230" opacity="0.08"/>
<path d="M122.2,651.7 C124.6,673.7 124.6,691.7 122.7,746.7 L158.7,746.7 C156.7,691.7 156.7,673.7 159.2,651.7 Z" fill="url(#gWhiteBody)" stroke="#86878d" stroke-width="0.8"/>
<ellipse cx="140.7" cy="651.7" rx="18.5" ry="6.6" fill="url(#gWhiteTop)"/>
<ellipse cx="140.7" cy="651.7" rx="19.0" ry="7.1" fill="#1d2230" opacity="0.08"/>
<path d="M83.7,658.6 C86.1,680.6 86.1,698.6 84.2,753.6 L120.5,753.6 C118.6,698.6 118.6,680.6 121.0,658.6 Z" fill="url(#gWhiteBody)" stroke="#86878d" stroke-width="0.8"/>
<ellipse cx="102.4" cy="658.6" rx="18.7" ry="6.7" fill="url(#gWhiteTop)"/>
<ellipse cx="102.4" cy="658.6" rx="19.2" ry="7.2" fill="#1d2230" opacity="0.08"/>
<path d="M44.8,665.5 C47.3,687.5 47.3,705.5 45.3,760.5 L82.0,760.5 C80.1,705.5 80.1,687.5 82.5,665.5 Z" fill="url(#gWhiteBody)" stroke="#86878d" stroke-width="0.8"/>
<ellipse cx="63.7" cy="665.5" rx="18.9" ry="6.8" fill="url(#gWhiteTop)"/>
<ellipse cx="63.7" cy="665.5" rx="19.4" ry="7.3" fill="#1d2230" opacity="0.08"/>
<path d="M5.4,672.5 C8.0,694.5 8.0,712.5 5.9,767.5 L43.1,767.5 C41.1,712.5 41.1,694.5 43.6,672.5 Z" fill="url(#gWhiteBody)" stroke="#86878d" stroke-width="0.8"/>
<ellipse cx="24.5" cy="672.5" rx="19.1" ry="6.8" fill="url(#gWhiteTop)"/>
<ellipse cx="24.5" cy="672.5" rx="19.6" ry="7.3" fill="#1d2230" opacity="0.09"/>
<path d="M-34.3,679.6 C-31.7,701.6 -31.7,719.6 -33.8,774.6 L3.8,774.6 C1.8,719.6 1.8,701.6 4.3,679.6 Z" fill="url(#gWhiteBody)" stroke="#86878d" stroke-width="0.8"/>
<ellipse cx="-15.0" cy="679.6" rx="19.3" ry="6.9" fill="url(#gWhiteTop)"/>
<ellipse cx="-15.0" cy="679.6" rx="19.8" ry="7.4" fill="#1d2230" opacity="0.09"/>
<path d="M261.4,639.1 C263.8,661.1 263.8,679.1 261.9,734.1 L297.0,734.1 C295.2,679.1 295.2,661.1 297.5,639.1 Z" fill="url(#gBlueBody)" stroke="#24679c" stroke-width="0.8"/>
<ellipse cx="279.5" cy="639.1" rx="18.1" ry="6.5" fill="url(#gBlueTop)"/>
<ellipse cx="279.5" cy="639.1" rx="18.6" ry="7.0" fill="#1d2230" opacity="0.03"/>
<path d="M224.4,645.8 C226.8,667.8 226.8,685.8 224.9,740.8 L260.4,740.8 C258.5,685.8 258.5,667.8 260.9,645.8 Z" fill="url(#gBlueBody)" stroke="#24679c" stroke-width="0.8"/>
<ellipse cx="242.7" cy="645.8" rx="18.3" ry="6.5" fill="url(#gBlueTop)"/>
<ellipse cx="242.7" cy="645.8" rx="18.8" ry="7.0" fill="#1d2230" opacity="0.03"/>
<path d="M187.0,652.6 C189.4,674.6 189.4,692.6 187.5,747.6 L223.4,747.6 C221.5,692.6 221.5,674.6 223.9,652.6 Z" fill="url(#gWhiteBody)" stroke="#86878d" stroke-width="0.8"/>
<ellipse cx="205.5" cy="652.6" rx="18.5" ry="6.6" fill="url(#gWhiteTop)"/>
<ellipse cx="205.5" cy="652.6" rx="19.0" ry="7.1" fill="#1d2230" opacity="0.03"/>
<path d="M149.2,659.4 C151.6,681.4 151.6,699.4 149.7,754.4 L186.0,754.4 C184.1,699.4 184.1,681.4 186.5,659.4 Z" fill="url(#gWhiteBody)" stroke="#86878d" stroke-width="0.8"/>
<ellipse cx="167.8" cy="659.4" rx="18.7" ry="6.7" fill="url(#gWhiteTop)"/>
<ellipse cx="167.8" cy="659.4" rx="19.2" ry="7.2" fill="#1d2230" opacity="0.03"/>
<path d="M110.9,666.4 C113.4,688.4 113.4,706.4 111.4,761.4 L148.2,761.4 C146.2,706.4 146.2,688.4 148.7,666.4 Z" fill="url(#gWhiteBody)" stroke="#86878d" stroke-width="0.8"/>
<ellipse cx="129.8" cy="666.4" rx="18.9" ry="6.8" fill="url(#gWhiteTop)"/>
<ellipse cx="129.8" cy="666.4" rx="19.4" ry="7.3" fill="#1d2230" opacity="0.03"/>
<path d="M72.3,673.4 C74.8,695.4 74.8,713.4 72.8,768.4 L110.0,768.4 C108.0,713.4 108.0,695.4 110.5,673.4 Z" fill="url(#gWhiteBody)" stroke="#86878d" stroke-width="0.8"/>
<ellipse cx="91.4" cy="673.4" rx="19.1" ry="6.8" fill="url(#gWhiteTop)"/>
<ellipse cx="91.4" cy="673.4" rx="19.6" ry="7.3" fill="#1d2230" opacity="0.03"/>
<path d="M33.3,680.5 C35.8,702.5 35.8,720.5 33.8,775.5 L71.4,775.5 C69.4,720.5 69.4,702.5 71.9,680.5 Z" fill="url(#gWhiteBody)" stroke="#86878d" stroke-width="0.8"/>
<ellipse cx="52.6" cy="680.5" rx="19.3" ry="6.9" fill="url(#gWhiteTop)"/>
<ellipse cx="52.6" cy="680.5" rx="19.8" ry="7.4" fill="#1d2230" opacity="0.03"/>
<path d="M-6.1,687.7 C-3.5,709.7 -3.5,727.7 -5.6,782.7 L32.4,782.7 C30.3,727.7 30.3,709.7 32.9,687.7 Z" fill="url(#gWhiteBody)" stroke="#86878d" stroke-width="0.8"/>
<ellipse cx="13.4" cy="687.7" rx="19.5" ry="7.0" fill="url(#gWhiteTop)"/>
<ellipse cx="13.4" cy="687.7" rx="20.0" ry="7.5" fill="#1d2230" opacity="0.03"/>
<path d="M-45.9,694.9 C-43.3,716.9 -43.3,734.9 -45.4,789.9 L-7.0,789.9 C-9.1,734.9 -9.1,716.9 -6.5,694.9 Z" fill="url(#gWhiteBody)" stroke="#86878d" stroke-width="0.8"/>
<ellipse cx="-26.2" cy="694.9" rx="19.7" ry="7.1" fill="url(#gWhiteTop)"/>
<ellipse cx="-26.2" cy="694.9" rx="20.2" ry="7.6" fill="#1d2230" opacity="0.03"/>
<path d="M288.1,646.7 C290.5,668.7 290.5,686.7 288.6,741.7 L324.1,741.7 C322.2,686.7 322.2,668.7 324.6,646.7 Z" fill="url(#gBlueBody)" stroke="#24679c" stroke-width="0.8"/>
<ellipse cx="306.3" cy="646.7" rx="18.2" ry="6.5" fill="url(#gBlueTop)"/>
<path d="M251.4,653.5 C253.8,675.5 253.8,693.5 251.9,748.5 L287.8,748.5 C285.8,693.5 285.8,675.5 288.3,653.5 Z" fill="url(#gBlueBody)" stroke="#24679c" stroke-width="0.8"/>
<ellipse cx="269.8" cy="653.5" rx="18.4" ry="6.6" fill="url(#gBlueTop)"/>
<path d="M214.3,660.4 C216.7,682.4 216.7,700.4 214.8,755.4 L251.1,755.4 C249.1,700.4 249.1,682.4 251.6,660.4 Z" fill="url(#gWhiteBody)" stroke="#86878d" stroke-width="0.8"/>
<ellipse cx="232.9" cy="660.4" rx="18.7" ry="6.7" fill="url(#gWhiteTop)"/>
<path d="M176.7,667.4 C179.2,689.4 179.2,707.4 177.2,762.4 L214.0,762.4 C212.0,707.4 212.0,689.4 214.5,667.4 Z" fill="url(#gWhiteBody)" stroke="#86878d" stroke-width="0.8"/>
<ellipse cx="195.6" cy="667.4" rx="18.9" ry="6.8" fill="url(#gWhiteTop)"/>
<path d="M138.8,674.4 C141.3,696.4 141.3,714.4 139.3,769.4 L176.5,769.4 C174.5,714.4 174.5,696.4 177.0,674.4 Z" fill="url(#gWhiteBody)" stroke="#86878d" stroke-width="0.8"/>
<ellipse cx="157.9" cy="674.4" rx="19.1" ry="6.8" fill="url(#gWhiteTop)"/>
<path d="M100.5,681.5 C103.1,703.5 103.1,721.5 101.0,776.5 L138.6,776.5 C136.6,721.5 136.6,703.5 139.1,681.5 Z" fill="url(#gWhiteBody)" stroke="#86878d" stroke-width="0.8"/>
<ellipse cx="119.8" cy="681.5" rx="19.3" ry="6.9" fill="url(#gWhiteTop)"/>
<path d="M61.8,688.7 C64.4,710.7 64.4,728.7 62.3,783.7 L100.3,783.7 C98.2,728.7 98.2,710.7 100.8,688.7 Z" fill="url(#gWhiteBody)" stroke="#86878d" stroke-width="0.8"/>
<ellipse cx="81.3" cy="688.7" rx="19.5" ry="7.0" fill="url(#gWhiteTop)"/>
<path d="M22.7,695.9 C25.3,717.9 25.3,735.9 23.2,790.9 L61.6,790.9 C59.5,735.9 59.5,717.9 62.1,695.9 Z" fill="url(#gWhiteBody)" stroke="#86878d" stroke-width="0.8"/>
<ellipse cx="42.4" cy="695.9" rx="19.7" ry="7.1" fill="url(#gWhiteTop)"/>
<path d="M-16.8,703.3 C-14.2,725.3 -14.2,743.3 -16.3,798.3 L22.5,798.3 C20.4,743.3 20.4,725.3 23.0,703.3 Z" fill="url(#gWhiteBody)" stroke="#86878d" stroke-width="0.8"/>
<ellipse cx="3.1" cy="703.3" rx="19.9" ry="7.1" fill="url(#gWhiteTop)"/>
<path d="M-56.7,710.7 C-54.1,732.7 -54.1,750.7 -56.2,805.7 L-17.0,805.7 C-19.1,750.7 -19.1,732.7 -16.5,710.7 Z" fill="url(#gWhiteBody)" stroke="#86878d" stroke-width="0.8"/>
<ellipse cx="-36.6" cy="710.7" rx="20.1" ry="7.2" fill="url(#gWhiteTop)"/>
<path d="M315.3,654.6 C317.8,676.6 317.8,694.6 315.8,749.6 L351.7,749.6 C349.8,694.6 349.8,676.6 352.2,654.6 Z" fill="url(#gBlueBody)" stroke="#24679c" stroke-width="0.8"/>
<ellipse cx="333.8" cy="654.6" rx="18.4" ry="6.6" fill="url(#gBlueTop)"/>
<path d="M278.9,661.4 C281.4,683.4 281.4,701.4 279.4,756.4 L315.7,756.4 C313.8,701.4 313.8,683.4 316.2,661.4 Z" fill="url(#gBlueBody)" stroke="#24679c" stroke-width="0.8"/>
<ellipse cx="297.6" cy="661.4" rx="18.6" ry="6.7" fill="url(#gBlueTop)"/>
<path d="M242.1,668.4 C244.6,690.4 244.6,708.4 242.6,763.4 L279.3,763.4 C277.4,708.4 277.4,690.4 279.8,668.4 Z" fill="url(#gWhiteBody)" stroke="#86878d" stroke-width="0.8"/>
<ellipse cx="261.0" cy="668.4" rx="18.9" ry="6.7" fill="url(#gWhiteTop)"/>
<path d="M204.9,675.4 C207.4,697.4 207.4,715.4 205.4,770.4 L242.6,770.4 C240.6,715.4 240.6,697.4 243.1,675.4 Z" fill="url(#gWhiteBody)" stroke="#86878d" stroke-width="0.8"/>
<ellipse cx="224.0" cy="675.4" rx="19.1" ry="6.8" fill="url(#gWhiteTop)"/>
<path d="M167.3,682.6 C169.9,704.6 169.9,722.6 167.8,777.6 L205.4,777.6 C203.3,722.6 203.3,704.6 205.9,682.6 Z" fill="url(#gWhiteBody)" stroke="#86878d" stroke-width="0.8"/>
<ellipse cx="186.6" cy="682.6" rx="19.3" ry="6.9" fill="url(#gWhiteTop)"/>
<path d="M129.3,689.8 C131.9,711.8 131.9,729.8 129.8,784.8 L167.8,784.8 C165.7,729.8 165.7,711.8 168.3,689.8 Z" fill="url(#gWhiteBody)" stroke="#86878d" stroke-width="0.8"/>
<ellipse cx="148.8" cy="689.8" rx="19.5" ry="7.0" fill="url(#gWhiteTop)"/>
<path d="M90.9,697.0 C93.5,719.0 93.5,737.0 91.4,792.0 L129.8,792.0 C127.7,737.0 127.7,719.0 130.3,697.0 Z" fill="url(#gWhiteBody)" stroke="#86878d" stroke-width="0.8"/>
<ellipse cx="110.6" cy="697.0" rx="19.7" ry="7.1" fill="url(#gWhiteTop)"/>
<path d="M52.1,704.4 C54.8,726.4 54.8,744.4 52.6,799.4 L91.5,799.4 C89.3,744.4 89.3,726.4 92.0,704.4 Z" fill="url(#gWhiteBody)" stroke="#86878d" stroke-width="0.8"/>
<ellipse cx="72.0" cy="704.4" rx="19.9" ry="7.1" fill="url(#gWhiteTop)"/>
<path d="M12.9,711.8 C15.6,733.8 15.6,751.8 13.4,806.8 L52.7,806.8 C50.5,751.8 50.5,733.8 53.2,711.8 Z" fill="url(#gWhiteBody)" stroke="#86878d" stroke-width="0.8"/>
<ellipse cx="33.1" cy="711.8" rx="20.1" ry="7.2" fill="url(#gWhiteTop)"/>
<path d="M-26.7,719.3 C-24.0,741.3 -24.0,759.3 -26.2,814.3 L13.5,814.3 C11.3,759.3 11.3,741.3 14.0,719.3 Z" fill="url(#gWhiteBody)" stroke="#86878d" stroke-width="0.8"/>
<ellipse cx="-6.3" cy="719.3" rx="20.3" ry="7.3" fill="url(#gWhiteTop)"/>
<path d="M343.2,662.5 C345.6,684.5 345.6,702.5 343.7,757.5 L379.9,757.5 C378.0,702.5 378.0,684.5 380.4,662.5 Z" fill="url(#gBlueBody)" stroke="#24679c" stroke-width="0.8"/>
<ellipse cx="361.8" cy="662.5" rx="18.6" ry="6.7" fill="url(#gBlueTop)"/>
<path d="M307.1,669.5 C309.6,691.5 309.6,709.5 307.6,764.5 L344.2,764.5 C342.3,709.5 342.3,691.5 344.7,669.5 Z" fill="url(#gBlueBody)" stroke="#24679c" stroke-width="0.8"/>
<ellipse cx="325.9" cy="669.5" rx="18.8" ry="6.7" fill="url(#gBlueTop)"/>
<path d="M270.6,676.6 C273.1,698.6 273.1,716.6 271.1,771.6 L308.2,771.6 C306.2,716.6 306.2,698.6 308.7,676.6 Z" fill="url(#gWhiteBody)" stroke="#86878d" stroke-width="0.8"/>
<ellipse cx="289.7" cy="676.6" rx="19.0" ry="6.8" fill="url(#gWhiteTop)"/>
<path d="M233.7,683.7 C236.3,705.7 236.3,723.7 234.2,778.7 L271.7,778.7 C269.7,723.7 269.7,705.7 272.2,683.7 Z" fill="url(#gWhiteBody)" stroke="#86878d" stroke-width="0.8"/>
<ellipse cx="253.0" cy="683.7" rx="19.3" ry="6.9" fill="url(#gWhiteTop)"/>
<path d="M196.4,690.9 C199.0,712.9 199.0,730.9 196.9,785.9 L234.9,785.9 C232.8,730.9 232.8,712.9 235.4,690.9 Z" fill="url(#gWhiteBody)" stroke="#86878d" stroke-width="0.8"/>
<ellipse cx="215.9" cy="690.9" rx="19.5" ry="7.0" fill="url(#gWhiteTop)"/>
<path d="M158.8,698.2 C161.4,720.2 161.4,738.2 159.3,793.2 L197.6,793.2 C195.6,738.2 195.6,720.2 198.1,698.2 Z" fill="url(#gWhiteBody)" stroke="#86878d" stroke-width="0.8"/>
<ellipse cx="178.5" cy="698.2" rx="19.7" ry="7.0" fill="url(#gWhiteTop)"/>
<path d="M120.7,705.6 C123.3,727.6 123.3,745.6 121.2,800.6 L160.0,800.6 C157.9,745.6 157.9,727.6 160.5,705.6 Z" fill="url(#gWhiteBody)" stroke="#86878d" stroke-width="0.8"/>
<ellipse cx="140.6" cy="705.6" rx="19.9" ry="7.1" fill="url(#gWhiteTop)"/>
<path d="M82.2,713.0 C84.9,735.0 84.9,753.0 82.7,808.0 L121.9,808.0 C119.8,753.0 119.8,735.0 122.4,713.0 Z" fill="url(#gWhiteBody)" stroke="#86878d" stroke-width="0.8"/>
<ellipse cx="102.3" cy="713.0" rx="20.1" ry="7.2" fill="url(#gWhiteTop)"/>
<path d="M43.3,720.5 C46.0,742.5 46.0,760.5 43.8,815.5 L83.5,815.5 C81.3,760.5 81.3,742.5 84.0,720.5 Z" fill="url(#gWhiteBody)" stroke="#86878d" stroke-width="0.8"/>
<ellipse cx="63.7" cy="720.5" rx="20.3" ry="7.3" fill="url(#gWhiteTop)"/>
<path d="M4.0,728.1 C6.8,750.1 6.8,768.1 4.5,823.1 L44.6,823.1 C42.4,768.1 42.4,750.1 45.1,728.1 Z" fill="url(#gWhiteBody)" stroke="#86878d" stroke-width="0.8"/>
<ellipse cx="24.6" cy="728.1" rx="20.5" ry="7.4" fill="url(#gWhiteTop)"/>
<path d="M-35.6,735.8 C-32.9,757.8 -32.9,775.8 -35.1,830.8 L5.4,830.8 C3.2,775.8 3.2,757.8 5.9,735.8 Z" fill="url(#gWhiteBody)" stroke="#86878d" stroke-width="0.8"/>
<ellipse cx="-14.9" cy="735.8" rx="20.8" ry="7.4" fill="url(#gWhiteTop)"/>
<path d="M371.6,670.7 C374.1,692.7 374.1,710.7 372.1,765.7 L408.7,765.7 C406.7,710.7 406.7,692.7 409.2,670.7 Z" fill="url(#gBlueBody)" stroke="#24679c" stroke-width="0.8"/>
<ellipse cx="390.4" cy="670.7" rx="18.8" ry="6.7" fill="url(#gBlueTop)"/>
<path d="M335.8,677.8 C338.3,699.8 338.3,717.8 336.3,772.8 L373.4,772.8 C371.4,717.8 371.4,699.8 373.9,677.8 Z" fill="url(#gBlueBody)" stroke="#24679c" stroke-width="0.8"/>
<ellipse cx="354.9" cy="677.8" rx="19.0" ry="6.8" fill="url(#gBlueTop)"/>
<path d="M299.7,684.9 C302.2,706.9 302.2,724.9 300.2,779.9 L337.7,779.9 C335.6,724.9 335.6,706.9 338.2,684.9 Z" fill="url(#gBlueBody)" stroke="#24679c" stroke-width="0.8"/>
<ellipse cx="318.9" cy="684.9" rx="19.2" ry="6.9" fill="url(#gBlueTop)"/>
<path d="M263.1,692.1 C265.7,714.1 265.7,732.1 263.6,787.1 L301.5,787.1 C299.5,732.1 299.5,714.1 302.0,692.1 Z" fill="url(#gBlueBody)" stroke="#24679c" stroke-width="0.8"/>
<ellipse cx="282.6" cy="692.1" rx="19.5" ry="7.0" fill="url(#gBlueTop)"/>
<path d="M226.2,699.4 C228.8,721.4 228.8,739.4 226.7,794.4 L265.0,794.4 C262.9,739.4 262.9,721.4 265.5,699.4 Z" fill="url(#gBlueBody)" stroke="#24679c" stroke-width="0.8"/>
<ellipse cx="245.9" cy="699.4" rx="19.7" ry="7.0" fill="url(#gBlueTop)"/>
<path d="M188.8,706.8 C191.4,728.8 191.4,746.8 189.3,801.8 L228.1,801.8 C226.0,746.8 226.0,728.8 228.6,706.8 Z" fill="url(#gBlueBody)" stroke="#24679c" stroke-width="0.8"/>
<ellipse cx="208.7" cy="706.8" rx="19.9" ry="7.1" fill="url(#gBlueTop)"/>
<path d="M151.1,714.3 C153.7,736.3 153.7,754.3 151.6,809.3 L190.8,809.3 C188.6,754.3 188.6,736.3 191.3,714.3 Z" fill="url(#gBlueBody)" stroke="#24679c" stroke-width="0.8"/>
<ellipse cx="171.2" cy="714.3" rx="20.1" ry="7.2" fill="url(#gBlueTop)"/>
<path d="M112.9,721.8 C115.6,743.8 115.6,761.8 113.4,816.8 L153.1,816.8 C150.9,761.8 150.9,743.8 153.6,721.8 Z" fill="url(#gBlueBody)" stroke="#24679c" stroke-width="0.8"/>
<ellipse cx="133.2" cy="721.8" rx="20.3" ry="7.3" fill="url(#gBlueTop)"/>
<path d="M74.4,729.4 C77.1,751.4 77.1,769.4 74.9,824.4 L114.9,824.4 C112.7,769.4 112.7,751.4 115.4,729.4 Z" fill="url(#gBlueBody)" stroke="#24679c" stroke-width="0.8"/>
<ellipse cx="94.9" cy="729.4" rx="20.5" ry="7.4" fill="url(#gBlueTop)"/>
<path d="M35.4,737.1 C38.1,759.1 38.1,777.1 35.9,832.1 L76.4,832.1 C74.2,777.1 74.2,759.1 76.9,737.1 Z" fill="url(#gBlueBody)" stroke="#24679c" stroke-width="0.8"/>
<ellipse cx="56.2" cy="737.1" rx="20.8" ry="7.4" fill="url(#gBlueTop)"/>
<path d="M-3.9,744.9 C-1.2,766.9 -1.2,784.9 -3.4,839.9 L37.5,839.9 C35.2,784.9 35.2,766.9 38.0,744.9 Z" fill="url(#gBlueBody)" stroke="#24679c" stroke-width="0.8"/>
<ellipse cx="17.0" cy="744.9" rx="21.0" ry="7.5" fill="url(#gBlueTop)"/>
<path d="M-43.7,752.7 C-40.9,774.7 -40.9,792.7 -43.2,847.7 L-1.8,847.7 C-4.1,792.7 -4.1,774.7 -1.3,752.7 Z" fill="url(#gBlueBody)" stroke="#24679c" stroke-width="0.8"/>
<ellipse cx="-22.5" cy="752.7" rx="21.2" ry="7.6" fill="url(#gBlueTop)"/>
<path d="M400.6,679.0 C403.1,701.0 403.1,719.0 401.1,774.0 L438.1,774.0 C436.1,719.0 436.1,701.0 438.6,679.0 Z" fill="url(#gBlueBody)" stroke="#24679c" stroke-width="0.8"/>
<ellipse cx="419.6" cy="679.0" rx="19.0" ry="6.8" fill="url(#gBlueTop)"/>
<path d="M365.2,686.2 C367.7,708.2 367.7,726.2 365.7,781.2 L403.1,781.2 C401.1,726.2 401.1,708.2 403.6,686.2 Z" fill="url(#gBlueBody)" stroke="#24679c" stroke-width="0.8"/>
<ellipse cx="384.4" cy="686.2" rx="19.2" ry="6.9" fill="url(#gBlueTop)"/>
<path d="M329.4,693.4 C331.9,715.4 331.9,733.4 329.9,788.4 L367.7,788.4 C365.7,733.4 365.7,715.4 368.2,693.4 Z" fill="url(#gBlueBody)" stroke="#24679c" stroke-width="0.8"/>
<ellipse cx="348.8" cy="693.4" rx="19.4" ry="7.0" fill="url(#gBlueTop)"/>
<path d="M293.1,700.7 C295.7,722.7 295.7,740.7 293.6,795.7 L332.0,795.7 C329.9,740.7 329.9,722.7 332.5,700.7 Z" fill="url(#gBlueBody)" stroke="#24679c" stroke-width="0.8"/>
<ellipse cx="312.8" cy="700.7" rx="19.7" ry="7.0" fill="url(#gBlueTop)"/>
<path d="M256.5,708.1 C259.1,730.1 259.1,748.1 257.0,803.1 L295.8,803.1 C293.7,748.1 293.7,730.1 296.3,708.1 Z" fill="url(#gBlueBody)" stroke="#24679c" stroke-width="0.8"/>
<ellipse cx="276.4" cy="708.1" rx="19.9" ry="7.1" fill="url(#gBlueTop)"/>
<path d="M219.5,715.6 C222.2,737.6 222.2,755.6 220.0,810.6 L259.2,810.6 C257.0,755.6 257.0,737.6 259.7,715.6 Z" fill="url(#gBlueBody)" stroke="#24679c" stroke-width="0.8"/>
<ellipse cx="239.6" cy="715.6" rx="20.1" ry="7.2" fill="url(#gBlueTop)"/>
<path d="M182.1,723.2 C184.8,745.2 184.8,763.2 182.6,818.2 L222.2,818.2 C220.0,763.2 220.0,745.2 222.7,723.2 Z" fill="url(#gBlueBody)" stroke="#24679c" stroke-width="0.8"/>
<ellipse cx="202.4" cy="723.2" rx="20.3" ry="7.3" fill="url(#gBlueTop)"/>
<path d="M144.3,730.8 C147.0,752.8 147.0,770.8 144.8,825.8 L184.8,825.8 C182.6,770.8 182.6,752.8 185.3,730.8 Z" fill="url(#gBlueBody)" stroke="#24679c" stroke-width="0.8"/>
<ellipse cx="164.8" cy="730.8" rx="20.5" ry="7.3" fill="url(#gBlueTop)"/>
<path d="M106.1,738.5 C108.8,760.5 108.8,778.5 106.6,833.5 L147.0,833.5 C144.8,778.5 144.8,760.5 147.5,738.5 Z" fill="url(#gBlueBody)" stroke="#24679c" stroke-width="0.8"/>
<ellipse cx="126.8" cy="738.5" rx="20.7" ry="7.4" fill="url(#gBlueTop)"/>
<path d="M67.4,746.3 C70.2,768.3 70.2,786.3 67.9,841.3 L108.9,841.3 C106.6,786.3 106.6,768.3 109.4,746.3 Z" fill="url(#gBlueBody)" stroke="#24679c" stroke-width="0.8"/>
<ellipse cx="88.4" cy="746.3" rx="21.0" ry="7.5" fill="url(#gBlueTop)"/>
<path d="M28.4,754.1 C31.2,776.1 31.2,794.1 28.9,849.1 L70.3,849.1 C68.0,794.1 68.0,776.1 70.8,754.1 Z" fill="url(#gBlueBody)" stroke="#24679c" stroke-width="0.8"/>
<ellipse cx="49.6" cy="754.1" rx="21.2" ry="7.6" fill="url(#gBlueTop)"/>
<path d="M-11.0,762.1 C-8.2,784.1 -8.2,802.1 -10.5,857.1 L31.3,857.1 C29.0,802.1 29.0,784.1 31.8,762.1 Z" fill="url(#gBlueBody)" stroke="#24679c" stroke-width="0.8"/>
<ellipse cx="10.4" cy="762.1" rx="21.4" ry="7.7" fill="url(#gBlueTop)"/>
<path d="M-50.8,770.1 C-48.0,792.1 -48.0,810.1 -50.3,865.1 L-8.1,865.1 C-10.4,810.1 -10.4,792.1 -7.6,770.1 Z" fill="url(#gBlueBody)" stroke="#24679c" stroke-width="0.8"/>
<ellipse cx="-29.2" cy="770.1" rx="21.6" ry="7.7" fill="url(#gBlueTop)"/>
<rect x="-10" y="580" width="470" height="260" fill="url(#patMesh)" opacity="0.35" clip-path="url(#clipMesh)"/>
</g>
<polygon points="-10.0,835.7 0.0,833.7 140.0,806.0 270.0,775.0 340.0,760.0 380.0,751.2 416.0,744.0 440.0,737.0 449.0,733.0 447.6,848.0 447.6,855.0 441.2,862.3 424.0,869.0 357.0,886.0 270.0,902.8 100.0,947.0 0.0,969.0 -10.0,971.0" fill="#ececec"/>
<g clip-path="url(#clipSide)">
<rect x="-22.0" y="720" width="33.0" height="270" fill="url(#gChannel)"/>
<rect x="11.0" y="720" width="33.0" height="270" fill="url(#gChannel)"/>
<rect x="44.0" y="720" width="33.0" height="270" fill="url(#gChannel)"/>
<rect x="77.0" y="720" width="32.0" height="270" fill="url(#gChannel)"/>
<rect x="109.0" y="720" width="31.0" height="270" fill="url(#gChannel)"/>
<rect x="140.0" y="720" width="30.5" height="270" fill="url(#gChannel)"/>
<rect x="170.5" y="720" width="30.5" height="270" fill="url(#gChannel)"/>
<rect x="201.0" y="720" width="30.5" height="270" fill="url(#gChannel)"/>
<rect x="231.5" y="720" width="29.0" height="270" fill="url(#gChannel)"/>
<rect x="260.5" y="720" width="24.5" height="270" fill="url(#gChannel)"/>
<rect x="350.0" y="720" width="25.6" height="270" fill="url(#gChannel)"/>
<rect x="375.6" y="720" width="28.4" height="270" fill="url(#gChannel)"/>
<rect x="404.0" y="720" width="26.0" height="270" fill="url(#gChannel)"/>
<rect x="430.0" y="720" width="19.0" height="270" fill="url(#gChannel)"/>
<rect x="-10" y="720" width="470" height="270" fill="url(#patLines)" opacity="0.12"/>
</g>
<path d="M-10.0,824.6 L0.0,822.7 L140.0,795.0 L270.0,766.0 L340.0,751.4 L380.0,742.8 L416.0,734.4 C428,731 436,728 437.5,708 C443,708.5 447.5,713 448,721 L448.5,733 C447,736 444,737.5 440,739 L416.0,744.5 L380.0,751.2 L340.0,760.0 L270.0,775.0 L140.0,806.0 L0.0,833.7 L-10.0,835.7 Z" fill="#3c3f4e"/>
<polyline points="0.0,825.5 140.0,797.8 270.0,768.8 340.0,754.2 380.0,745.6 416.0,737.2 432.0,733.0" fill="none" stroke="#9aa3b8" stroke-width="0.8" stroke-dasharray="2,2" opacity="0.8"/>
<polygon points="-10.0,971.0 0.0,969.0 100.0,947.0 270.0,902.8 357.0,886.0 424.0,869.0 441.2,862.3 447.6,855.0 447.6,848.0 450.5,848.0 449.5,862.0 441.0,869.5 424.0,877.5 380.0,889.3 340.0,898.4 270.0,914.5 100.0,956.0 0.0,980.0 -10.0,982.0" fill="#3e4150"/>
<polyline points="0,977.5 100,953.5 270,912 340,896 380,887 424,875.2 441,867.3 447.8,860.5 448.8,848" fill="none" stroke="#8a90a0" stroke-width="0.7" opacity="0.55"/>
<g transform="translate(286,773.7) skewY(-10.1)">
<rect x="0" y="-1.5" width="71.3" height="126.5" fill="#1c1c1d"/>
<rect x="7" y="10.5" width="61.5" height="40" rx="4" fill="none" stroke="#5a5c60" stroke-width="0.7"/>
<path d="M7,34.5 C20,34.5 26,34.5 32,34.0 C38,33.5 42,31.5 48,31.0 C56,30.5 62,30.5 69,30.0 L69,38.5 C62,39 56,39 48,39.5 C42,40 38,42 32,42.5 C26,43 20,43 7,43 Z" fill="#f4f7f7"/>
<path d="M7,36 C20,36 26,36 32,35.5 C38,35 42,33 48,32.5 C56,32 62,32 69,31.5 L69,33.8 C62,34.3 56,34.3 48,34.8 C42,35.3 38,37.3 32,37.8 C26,38.3 20,38.3 7,38.3 Z" fill="#34a9ae"/>
<path d="M7,39.6 C20,39.6 26,39.6 32,39.1 C38,38.6 42,36.6 48,36.1 C56,35.6 62,35.6 69,35.1 L69,37.1 C62,37.6 56,37.6 48,38.1 C42,38.6 38,40.6 32,41.1 C26,41.6 20,41.6 7,41.6 Z" fill="#34a9ae"/>
<path d="M9.5,36 C8,33.5 9.5,30.5 12,31 C12,28 15.5,26.5 18,28.5 C20,25.5 24,25 27,26.5 C31,24 38,24 42,24.5 C48,24 56,24.5 62,25.5 C65,26 66,28 63.5,29 C58,30 52,31 46,32 C38,33.5 28,35 18,36.5 Z" fill="#f2f2f2"/>
<path d="M33,25.5 C35,27 38.5,27 40.5,25.5" fill="none" stroke="#9a9a9a" stroke-width="0.8"/>
<text x="13" y="84.5" font-family="Liberation Sans, sans-serif" font-style="italic" font-size="14" fill="#33a7b6" stroke="#33a7b6" stroke-width="0.5" textLength="50" lengthAdjust="spacingAndGlyphs" transform="rotate(-3 13 84.5)">Serweet</text>
<text x="18.5" y="90.5" font-family="Liberation Sans, sans-serif" font-weight="bold" font-size="5.6" fill="#e6e6e6" textLength="38.5" lengthAdjust="spacingAndGlyphs">Premium Mattress</text>
<rect x="6" y="102" width="12.5" height="15.5" rx="2.5" fill="none" stroke="#c9c9c9" stroke-width="1"/>
<rect x="20.8" y="100.5" width="15.2" height="15.5" rx="2.5" fill="none" stroke="#c9c9c9" stroke-width="1"/>
<rect x="38.3" y="99.8" width="13.7" height="15.5" rx="2.5" fill="none" stroke="#c9c9c9" stroke-width="1"/>
<rect x="55" y="99" width="13.7" height="15.5" rx="2.5" fill="none" stroke="#c9c9c9" stroke-width="1"/>
<path d="M14.5,104.5 A3,3 0 1 0 16.5,109 A2.3,2.3 0 1 1 14.5,104.5 Z" fill="#eeeeee"/>
<path d="M8.5,115.5 C8,113 9.5,111.5 11.5,112 C12.5,110 15.5,110 16.5,112.5 C18,112.5 18.5,115 17,115.5 Z" fill="#eeeeee"/>
<text x="23.3" y="110.5" font-family="Liberation Sans, sans-serif" font-weight="bold" font-size="8" fill="#f2f2f2" textLength="9.5" lengthAdjust="spacingAndGlyphs">10</text>
<rect x="23.5" y="112.3" width="9.5" height="0.8" fill="#cfcfcf"/>
<path d="M43.5,102.5 C47.5,104 48.5,110 44,113 C47,113.5 50.5,110 49.5,106 C49,103.5 46,102 43.5,102.5 Z" fill="#eeeeee"/>
<circle cx="59.3" cy="103.3" r="1.4" fill="#eeeeee"/><circle cx="64.3" cy="103.3" r="1.4" fill="#eeeeee"/>
<rect x="57.6" y="105.3" width="3.4" height="6.5" rx="1" fill="#eeeeee"/><rect x="62.6" y="105.3" width="3.4" height="6.5" rx="1" fill="#eeeeee"/>
</g>
<polygon points="-10.0,434.0 300.0,514.4 439.4,551.0 441.0,553.0 441.0,575.0 300.0,602.0 160.0,628.3 0.0,658.4 -10.0,660.3" fill="none" stroke="#2a2f39" stroke-width="4" stroke-linejoin="round" opacity="0.4"/>
<polygon points="-10.0,434.0 300.0,514.4 439.4,551.0 441.0,553.0 441.0,575.0 300.0,602.0 160.0,628.3 0.0,658.4 -10.0,660.3" fill="#f3f3f3"/>
<g clip-path="url(#clipWL)">
<polygon points="-20,515 0,510 160,482 300,455 300,512 160,538 0,565 -20,568" fill="#6a6c76" opacity="0.45" filter="url(#blurS)"/>
</g>
<polygon points="441.0,556.0 441.0,575.0 300.0,602.0 160.0,628.3 0.0,658.4 -10.0,660.3 -10.0,636.2 0.0,634.4 160.0,606.0 300.0,579.5 438.0,555.8" fill="#eeeeee"/>
<polyline points="-10,636.2 0,634.4 160,606 300,579.5 438,555.8" fill="none" stroke="#ffffff" stroke-width="1.0" opacity="0.6"/>
<polyline points="-10,637.8 0,636 160,607.6 300,581.1 438,557.4" fill="none" stroke="#d8d8da" stroke-width="0.8" opacity="0.8"/>
<polygon points="-10.0,316.0 300.0,402.5 439.5,442.3 442.0,444.5 442.0,466.0 300.0,492.0 160.0,517.4 0.0,546.4 -10.0,548.2" fill="none" stroke="#2a2f39" stroke-width="4" stroke-linejoin="round" opacity="0.4"/>
<polygon points="-10.0,316.0 300.0,402.5 439.5,442.3 442.0,444.5 442.0,466.0 300.0,492.0 160.0,517.4 0.0,546.4 -10.0,548.2" fill="#ede5c0"/>
<g clip-path="url(#clipLY)">
<polygon points="-20,405 0,400 160,378 285,360 285,412 160,430 0,455 -20,458" fill="#7d7350" opacity="0.55" filter="url(#blurS)"/>
</g>
<polygon points="442.0,446.5 442.0,466.0 300.0,492.0 160.0,517.4 0.0,546.4 -10.0,548.2 -10.0,525.0 0.0,523.2 160.0,495.5 300.0,471.0 439.0,446.0" fill="url(#gYelFront)"/>
<polyline points="-10,525 0,523.2 160,495.5 300,471 439,446" fill="none" stroke="#f6f1d8" stroke-width="1.1" opacity="0.6"/>
<polyline points="-10,527 0,525.2 160,497.5 300,473 439,448" fill="none" stroke="#d9d0a8" stroke-width="0.8" opacity="0.7"/>
<polygon points="-10.0,256.0 215.0,303.0 300.0,321.4 439.5,351.0 442.0,352.5 442.0,368.0 300.0,389.8 160.0,412.0 0.0,434.4 -10.0,435.9" fill="none" stroke="#2a2f39" stroke-width="4" stroke-linejoin="round" opacity="0.4"/>
<polygon points="-10.0,256.0 215.0,303.0 300.0,321.4 439.5,351.0 442.0,352.5 442.0,368.0 300.0,389.8 160.0,412.0 0.0,434.4 -10.0,435.9" fill="#ede5c0"/>
<g clip-path="url(#clipUY)">
<polygon points="-20,300 0,296 140,280 235,265 235,305 140,328 0,346 -20,348" fill="#7d7350" opacity="0.55" filter="url(#blurS)"/>
</g>
<polygon points="442.0,355.5 442.0,368.0 300.0,389.8 160.0,412.0 0.0,434.4 -10.0,435.9 -10.0,419.0 0.0,417.6 160.0,396.5 300.0,373.0 439.0,355.0" fill="url(#gYelFront)"/>
<polyline points="-10,419 0,417.6 160,396.5 300,373 439,355" fill="none" stroke="#f6f1d8" stroke-width="1.1" opacity="0.6"/>
<polyline points="-10,421 0,419.6 160,398.5 300,375 439,357" fill="none" stroke="#d9d0a8" stroke-width="0.8" opacity="0.7"/>
<polyline points="-10,128.3 0,130 70,142 140,154 204,167 244,174.4 292,182.4 340,191.2 380,199.6 436,212.5 449,219 451,224 445,232 444.5,262 443.6,268 340,283.6 140,314 0,331.6 -10,333" fill="none" stroke="#2a2f39" stroke-width="4" stroke-linejoin="round" opacity="0.4"/>
<path d="M-10,280 L0,279 L140,262 L340,236 L380,230.5 L420,215 C432,211.5 446,214.5 450.5,221.5 C451,227 448,231 443.5,232 L380,241.2 L340,246.5 L140,275.6 L0,291.7 L-10,293 Z" fill="#484d62"/>
<polygon points="-10.0,293.0 0.0,291.7 140.0,275.6 340.0,246.5 380.0,241.2 443.5,232.0 444.0,262.0 443.6,268.0 340.0,283.6 140.0,314.0 0.0,331.6 -10.0,333.0" fill="#303137"/>
<g clip-path="url(#clipDS)"><rect x="-10" y="225" width="460" height="110" filter="url(#fSpeck)" opacity="0.42"/></g>
<path d="M-10,129.8 L0,131.5 L70,143.5 L140,155.5 L204,168.5 L244,175.9 L292,183.9 L340,192.7 L380,201 L434,215.5 C441,217.5 443,219 442.4,220.5 C442,222 441.5,222.3 440.8,222.5 L380,234 L340,239.3 L140,265.3 L0,282.4 L-10,283.6 Z" fill="url(#gCover)"/>
<g clip-path="url(#clipCover)">
<rect x="-10" y="120" width="470" height="170" filter="url(#fTopo)" opacity="0.55"/>
<rect x="-10" y="120" width="470" height="170" filter="url(#fKnit)" opacity="0.35"/>
</g>
<ellipse cx="44" cy="159" rx="15" ry="6.5" fill="url(#gTuft)" opacity="0.8"/>
<ellipse cx="170" cy="182" rx="15" ry="6.5" fill="url(#gTuft)" opacity="0.8"/>
<ellipse cx="136" cy="205" rx="15" ry="6.5" fill="url(#gTuft)" opacity="0.8"/>
<ellipse cx="99" cy="240" rx="15" ry="6.5" fill="url(#gTuft)" opacity="0.8"/>
<ellipse cx="308" cy="217" rx="15" ry="6.5" fill="url(#gTuft)" opacity="0.8"/>
<ellipse cx="0" cy="185" rx="15" ry="6.5" fill="url(#gTuft)" opacity="0.8"/>
<ellipse cx="275" cy="200" rx="15" ry="6.5" fill="url(#gTuft)" opacity="0.8"/>
</svg>
</body></html>
